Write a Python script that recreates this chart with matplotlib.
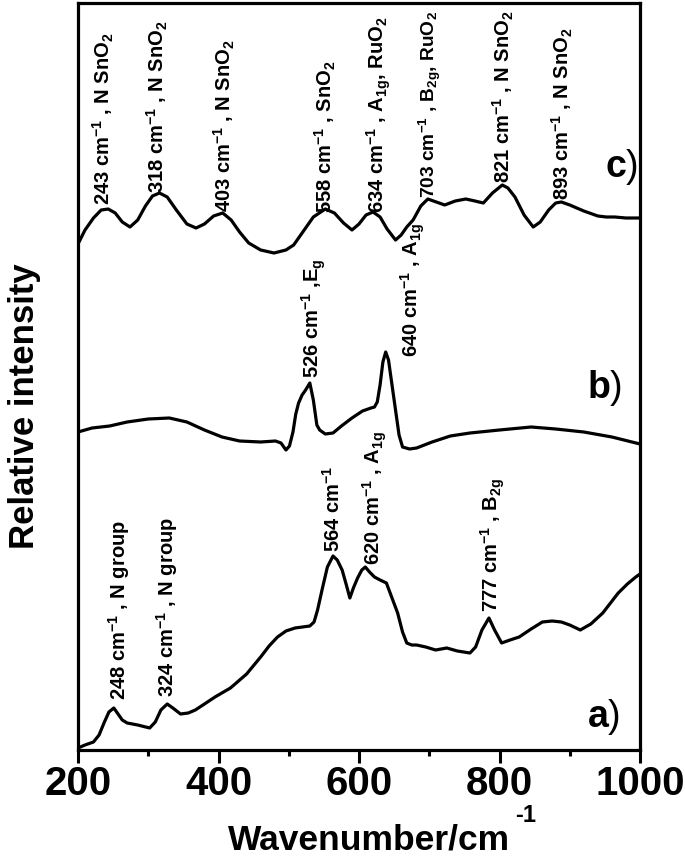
import matplotlib
matplotlib.use("Agg")
import matplotlib.pyplot as plt
from matplotlib.ticker import MultipleLocator

plt.rcParams['font.family'] = ['Liberation Sans', 'DejaVu Sans']
plt.rcParams['font.weight'] = 'bold'
plt.rcParams['mathtext.fontset'] = 'custom'
plt.rcParams['mathtext.rm'] = 'Liberation Sans:bold'
plt.rcParams['mathtext.it'] = 'Liberation Sans:bold'
plt.rcParams['mathtext.bf'] = 'Liberation Sans:bold'
plt.rcParams['mathtext.default'] = 'rm'

# spectrum a) (bottom)
wn_a = [200, 210, 222, 230, 237, 244, 251, 257, 263, 270, 285, 302, 310, 318, 327,
        335, 346, 357, 367, 380, 395, 417, 440, 460, 472, 484, 496, 509, 530, 536,
        541, 548, 555, 563, 569, 576, 582, 587, 592, 598, 604, 609, 615, 622, 630,
        639, 647, 655, 662, 668, 675, 682, 695, 709, 717, 725, 740, 758, 766, 775,
        785, 793, 803, 815, 828, 845, 861, 875, 888, 900, 915, 930, 947, 958, 969,
        982, 994, 1000]
int_a = [2, 5, 8, 15, 27, 38, 42, 36, 30, 27, 25, 22, 28, 40, 46,
         42, 36, 37, 40, 46, 53, 62, 76, 93, 104, 113, 119, 122, 124, 128,
         140, 162, 183, 194, 190, 180, 165, 152, 162, 172, 180, 183, 178, 173, 170,
         167, 152, 137, 118, 107, 105, 105, 103, 100, 101, 102, 99, 97, 103, 120,
         132, 120, 107, 110, 113, 121, 128, 129, 128, 125, 120, 126, 137, 147, 157,
         166, 173, 176]

# spectrum b) (middle)
wn_b = [200, 220, 245, 270, 300, 330, 355, 380, 405, 430, 460, 481, 489, 496, 501,
        506, 510, 514, 519, 524, 530, 535, 540, 544, 552, 563, 575, 590, 605, 617,
        622, 626, 630, 634, 638, 642, 647, 652, 657, 662, 672, 682, 704, 730, 758,
        800, 845, 880, 920, 960, 1000]
int_b = [318, 322, 324, 328, 331, 332, 328, 320, 313, 309, 308, 309, 307, 300, 304,
         318, 336, 347, 355, 360, 367, 350, 325, 320, 316, 317, 324, 332, 339, 342,
         343, 348, 365, 388, 398, 390, 365, 340, 315, 303, 301, 302, 308, 314, 317,
         320, 323, 321, 318, 313, 306]

# spectrum c) (top)
wn_c = [200, 210, 222, 233, 243, 253, 263, 274, 285, 296, 306, 316, 327, 340, 355,
        368, 380, 393, 406, 418, 430, 443, 460, 479, 496, 507, 520, 535, 552, 565,
        578, 590, 600, 610, 620, 630, 640, 652, 660, 668, 677, 688, 698, 710, 722,
        737, 752, 765, 777, 790, 804, 812, 822, 835, 848, 858, 870, 880, 888, 900,
        920, 940, 952, 964, 980, 1000]
int_c = [506, 520, 532, 540, 541, 537, 528, 523, 530, 544, 554, 557, 553, 540, 526,
         522, 526, 534, 537, 530, 518, 507, 500, 497, 500, 505, 518, 533, 541, 537,
         527, 520, 526, 535, 538, 533, 521, 510, 515, 523, 530, 544, 551, 548, 545,
         549, 551, 549, 547, 557, 565, 562, 553, 535, 523, 528, 540, 547, 548, 545,
         539, 534, 533, 533, 532, 532]

# peak labels
labels_c = [r"243 cm$^{-1}$ , N SnO$_2$", r"318 cm$^{-1}$ , N SnO$_2$",
            r"403 cm$^{-1}$ , N SnO$_2$", r"558 cm$^{-1}$ , SnO$_2$",
            r"634 cm$^{-1}$ , A$_{1g}$, RuO$_2$", r"703 cm$^{-1}$ , B$_{2g}$, RuO$_2$",
            r"821 cm$^{-1}$ , N SnO$_2$", r"893 cm$^{-1}$ , N SnO$_2$"]
labels_b = [r"526 cm$^{-1}$ ,E$_g$", r"640 cm$^{-1}$ , A$_{1g}$"]
labels_a = [r"248 cm$^{-1}$ , N group", r"324 cm$^{-1}$ , N group",
            r"564 cm$^{-1}$", r"620 cm$^{-1}$ , A$_{1g}$", r"777 cm$^{-1}$ , B$_{2g}$"]

# where each label sits (wavenumber, bottom of text)
pos_c = [(236, 545), (313, 557), (408, 538), (552, 537), (628, 537),
         (701, 552), (806, 567), (890, 550)]
pos_b = [(536, 372), (677, 393)]
pos_a = [(259, 50), (327, 53), (563, 198), (623, 185), (791, 138)]

fig = plt.figure(figsize=(6.85, 8.65), dpi=100)
ax = fig.add_axes([78/685, 115/865, 562/685, 747/865])

for x, y in [(wn_a, int_a), (wn_b, int_b), (wn_c, int_c)]:
    ax.plot(x, y, color='black', lw=2.3, solid_joinstyle='round')

for labs, pos in [(labels_c, pos_c), (labels_b, pos_b), (labels_a, pos_a)]:
    for t, (x, y) in zip(labs, pos):
        fs = 13.8 if 'B$_{2g}$, RuO' in t else 14.5
        ax.text(x, y, t, rotation=90, ha='center', va='bottom', fontsize=fs)

for t, x, y in [('c', 950, 583), ('b', 924, 362), ('a', 925, 33)]:
    ax.text(x, y, r"$\mathbf{%s}$)" % t, fontsize=27, fontweight='normal',
            ha='left', va='center')

ax.set_xlim(200, 1000)
ax.set_ylim(0, 747)
ax.set_yticks([])
ax.xaxis.set_major_locator(MultipleLocator(200))
ax.xaxis.set_minor_locator(MultipleLocator(100))
ax.tick_params(axis='x', which='major', direction='out', length=9, width=2.2,
               labelsize=29, pad=2)
ax.tick_params(axis='x', which='minor', direction='out', length=4.5, width=2.2)
for s in ax.spines.values():
    s.set_linewidth(2.3)

fig.text(369/685, 1 - 840/865, "Wavenumber/cm", fontsize=25.5, ha='center', va='center')
fig.text(526/685, 1 - 816/865, "-1", fontsize=17, ha='center', va='center')
fig.text(25/685, 1 - 406/865, "Relative intensity", fontsize=25, rotation=90,
         ha='center', va='center')

fig.savefig("out.png", dpi=100)
